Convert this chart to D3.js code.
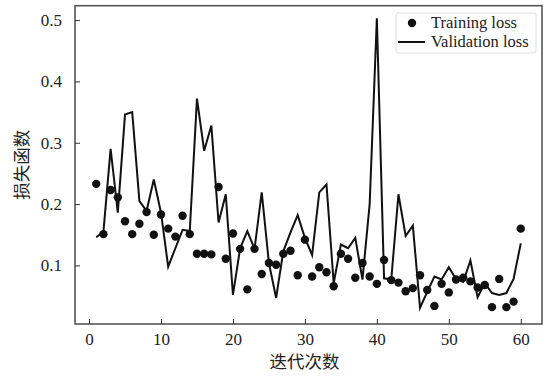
<!DOCTYPE html>
<html>
<head>
<meta charset="utf-8">
<script src="https://d3js.org/d3.v7.min.js"></script>
<style>
body { margin: 0; background: #fff; }
.tick text { font-family: "Liberation Serif", "Times New Roman", serif; font-size: 17px; fill: #222; }
.axis path, .axis line { stroke: #333; }
.line { fill: none; stroke: #111; stroke-width: 2px; stroke-linejoin: miter; }
</style>
</head>
<body>
<svg width="553" height="377"></svg>
<script>

var epochs = d3.range(1, 61);

var trainLoss = [
  0.233, 0.151, 0.223, 0.211, 0.172, 0.151, 0.168, 0.187, 0.150, 0.183,
  0.160, 0.147, 0.181, 0.151, 0.119, 0.119, 0.118, 0.228, 0.111, 0.152,
  0.127, 0.061, 0.127, 0.086, 0.104, 0.101, 0.119, 0.124, 0.084, 0.142,
  0.082, 0.097, 0.089, 0.066, 0.119, 0.111, 0.080, 0.104, 0.082, 0.070,
  0.109, 0.076, 0.072, 0.058, 0.063, 0.084, 0.060, 0.034, 0.070, 0.056,
  0.077, 0.080, 0.074, 0.064, 0.068, 0.032, 0.078, 0.032, 0.041, 0.160
];

var valLoss = [
  0.146, 0.155, 0.290, 0.186, 0.346, 0.350, 0.205, 0.189, 0.240, 0.186,
  0.098, 0.128, 0.158, 0.156, 0.372, 0.287, 0.328, 0.170, 0.216, 0.052,
  0.128, 0.156, 0.127, 0.219, 0.104, 0.047, 0.123, 0.154, 0.182, 0.145,
  0.117, 0.219, 0.232, 0.071, 0.134, 0.128, 0.145, 0.077, 0.200, 0.503,
  0.079, 0.077, 0.216, 0.148, 0.165, 0.031, 0.057, 0.082, 0.077, 0.097,
  0.078, 0.073, 0.108, 0.048, 0.071, 0.055, 0.052, 0.055, 0.078, 0.136
];

var xTicks = [0, 10, 20, 30, 40, 50, 60];
var yTicks = [0.1, 0.2, 0.3, 0.4, 0.5];

var svg = d3.select("svg"),
    plotL = 75, plotR = 542, plotT = 5.7, plotB = 324;

var x = d3.scaleLinear().domain([-1.95, 62.95]).range([plotL, plotR]);
var y = d3.scaleLinear().domain([0.0045, 0.5235]).range([plotB, plotT]);

// frame
svg.append("rect")
    .attr("x", plotL).attr("y", plotT)
    .attr("width", plotR - plotL).attr("height", plotB - plotT)
    .attr("fill", "none").attr("stroke", "#555").attr("stroke-width", 1.6);

svg.append("g")
    .attr("class", "axis")
    .attr("transform", "translate(0," + plotB + ")")
    .call(d3.axisBottom(x).tickValues(xTicks).tickSizeInner(-5).tickSizeOuter(0).tickPadding(9).tickFormat(d3.format("d")))
    .call(function(g) { g.select(".domain").remove(); });

svg.append("g")
    .attr("class", "axis")
    .attr("transform", "translate(" + plotL + ",0)")
    .call(d3.axisLeft(y).tickValues(yTicks).tickSizeInner(-5).tickSizeOuter(0).tickPadding(13).tickFormat(d3.format(".1f")))
    .call(function(g) { g.select(".domain").remove(); });

var line = d3.line()
    .x(function(d, i) { return x(epochs[i]); })
    .y(function(d) { return y(d); });

svg.append("path")
    .datum(valLoss)
    .attr("class", "line")
    .attr("d", line);

svg.append("g").selectAll("circle")
    .data(trainLoss)
  .enter().append("circle")
    .attr("cx", function(d, i) { return x(epochs[i]); })
    .attr("cy", function(d) { return y(d); })
    .attr("r", 4.2)
    .attr("fill", "#111");

// legend
var lg = svg.append("g").attr("transform", "translate(396,13)");
lg.append("rect")
    .attr("width", 140).attr("height", 40).attr("rx", 2)
    .attr("fill", "#fff").attr("stroke", "#ddd");
lg.append("circle").attr("cx", 16).attr("cy", 10).attr("r", 4.2).attr("fill", "#111");
lg.append("line").attr("x1", 2).attr("x2", 29).attr("y1", 29).attr("y2", 29)
    .attr("stroke", "#111").attr("stroke-width", 2);
lg.selectAll("text.lab")
    .data(["Training loss", "Validation loss"])
  .enter().append("text")
    .attr("x", 35)
    .attr("y", function(d, i) { return 15 + i * 19; })
    .style("font-family", "'Liberation Serif', 'Times New Roman', serif")
    .style("font-size", "16.5px")
    .attr("fill", "#222")
    .text(function(d) { return d; });

// axis titles
svg.append("text")
    .attr("x", (plotL + plotR) / 2 - 4)
    .attr("y", 368)
    .attr("text-anchor", "middle")
    .style("font-family", "'Noto Sans CJK SC', sans-serif")
    .style("font-size", "17.5px")
    .attr("fill", "#222")
    .text("迭代次数");

svg.append("text")
    .attr("transform", "translate(28," + ((plotT + plotB) / 2) + ") rotate(-90)")
    .attr("text-anchor", "middle")
    .style("font-family", "'Noto Sans CJK SC', sans-serif")
    .style("font-size", "17.5px")
    .attr("fill", "#222")
    .text("损失函数");

</script>
</body>
</html>
